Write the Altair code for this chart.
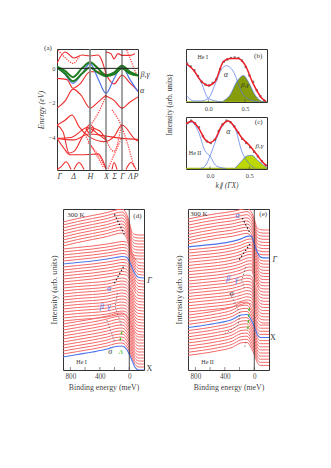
import altair as alt
import pandas as pd

FONT = "Liberation Serif"
RED = "#ee2b2b"
BLUE = "#4f74ea"
GREEN = "#1f7d1f"
INK = "#333333"

# ---------- panel (a): bands (k path position, energy eV)
A_TICKS = [0, 16, 33, 49, 57, 65, 73, 81]
A_NAMES = ["Γ", "Δ", "H", "X", "Σ", "Γ", "Λ", "P"]
A_SOLID = [
    ([0, 8, 17, 25, 33, 41, 49], [0.3, 0.95, 0.6, 0.77, 0.72, 0.77, -0.3]),
    ([0, 10, 16, 23, 33, 41, 49], [-0.58, -0.65, -1.15, -0.9, -0.2, -0.2, -0.35]),
    ([0, 8, 16, 24, 33, 41, 49], [-2.3, -1.9, -1.2, -1.55, -2.3, -1.95, -1.55]),
    ([49, 57, 65, 73, 81], [-1.6, -1.85, -2.3, -1.95, -1.65]),
    ([49, 54, 57, 61, 65, 73, 78], [0.95, 0.85, 0.55, 0.85, 0.75, 0.75, 0.85]),
    ([49, 57, 65, 73, 81], [-0.35, -0.9, -0.4, -0.85, -1.3]),
    ([0, 8, 15, 22, 32, 47, 57, 65, 79, 81], [-3.28, -3.0, -2.7, -3.37, -3.95, -4.24, -3.95, -3.28, -4.15, -4.2]),
    ([0, 6, 12, 17, 26, 32, 42, 49], [-3.28, -3.66, -4.9, -4.8, -3.9, -3.47, -3.85, -4.15]),
    ([0, 14, 31, 42, 49], [-4.05, -4.0, -3.41, -3.6, -4.1]),
    ([0, 17, 32, 47, 65, 81], [-4.05, -4.14, -3.8, -3.9, -4.05, -4.1]),
    ([0, 7, 13, 24, 33, 41, 49], [-4.05, -4.63, -5.0, -5.0, -4.98, -4.95, -5.8]),
    ([0, 4, 9, 14], [-5.85, -5.7, -5.4, -5.85]),
    ([17, 22, 27], [-5.85, -5.45, -5.85]),
    ([55, 57, 60], [-5.85, -5.45, -5.85]),
    ([69, 74, 79], [-5.85, -5.45, -5.85]),
    ([29, 33, 37], [-3.5, -3.25, -3.5]),
    ([29, 33, 37], [-3.5, -3.75, -3.5]),
]
A_DOTTED = [
    ([1, 9, 16, 23], [1.05, 0.58, 0.29, 0.77]),
    ([29, 47], [-3.95, -5.78]),
    ([32, 42, 49], [-3.4, -2.5, -1.6]),
    ([31, 41, 49], [-4.3, -5.0, -5.8]),
    ([49, 57, 64], [-4.15, -4.8, -3.4]),
    ([55, 64, 77], [-2.4, -3.28, -5.7]),
    ([51, 64], [-5.8, -4.1]),
    ([69.7, 79.7], [1.06, -0.39]),
]
A_BLUE = ([0, 8, 16, 25, 33, 41, 49, 57, 65, 73, 81],
          [0.1, -0.35, -0.87, -0.3, 0.29, -0.6, -1.44, -0.6, 0.1, -0.65, -1.35])
A_GREEN1 = ([0, 8, 16, 25, 33, 41, 49, 57, 65, 73, 81],
            [0.1, -0.15, -0.5, 0.0, 0.35, 0.0, -0.4, -0.25, 0.15, -0.2, -0.4])
A_GREEN2 = ([0, 8, 16, 25, 33, 41, 49, 57, 65, 73, 81],
            [0.05, -0.3, -0.75, -0.3, 0.05, -0.25, -0.45, -0.35, 0.0, -0.3, -0.42])

# ---------- panels (b), (c): momentum distribution (k, intensity)
B_TOTAL = ([-0.305, -0.2, -0.11, 0.0, 0.09, 0.205, 0.296, 0.41, 0.5, 0.61, 0.73, 0.787],
           [0.73, 0.6, 0.415, 0.31, 0.38, 0.76, 0.82, 0.82, 0.7, 0.35, 0.07, 0.01])
B_DOTS = ([-0.29, -0.24, -0.19, -0.14, -0.09, -0.04, 0.01, 0.06, 0.11, 0.16, 0.21, 0.26, 0.31, 0.36, 0.41, 0.46, 0.51, 0.56, 0.61, 0.66, 0.71, 0.76],
          [0.73, 0.67, 0.6, 0.49, 0.38, 0.33, 0.31, 0.36, 0.43, 0.62, 0.76, 0.8, 0.83, 0.84, 0.83, 0.78, 0.66, 0.5, 0.38, 0.22, 0.11, 0.03])
B_A1 = ([-0.305, -0.28, -0.2, -0.11, 0.0, 0.1, 0.2],
        [0.68, 0.69, 0.6, 0.41, 0.07, 0.02, 0.0])
B_A2 = ([-0.305, -0.2, -0.1, 0.0, 0.1, 0.18, 0.25, 0.33, 0.479, 0.61, 0.7],
        [0.13, 0.02, 0.02, 0.07, 0.36, 0.62, 0.685, 0.6, 0.13, 0.02, 0.0])
B_FILL = ([0.205, 0.296, 0.387, 0.479, 0.546, 0.637, 0.75, 0.8],
          [0.02, 0.13, 0.38, 0.5, 0.38, 0.13, 0.005, 0.0])

C_TOTAL = ([-0.305, -0.233, -0.148, -0.064, 0.0, 0.064, 0.148, 0.233, 0.318, 0.403, 0.488, 0.594, 0.657, 0.72],
           [0.87, 0.92, 0.795, 0.57, 0.506, 0.57, 0.827, 0.923, 0.795, 0.6, 0.474, 0.28, 0.154, 0.058])
C_DOTS = ([-0.29, -0.24, -0.19, -0.14, -0.09, -0.04, 0.01, 0.06, 0.11, 0.16, 0.21, 0.26, 0.31, 0.36, 0.41, 0.46, 0.51, 0.56, 0.61, 0.66, 0.71],
          [0.88, 0.93, 0.88, 0.8, 0.63, 0.53, 0.5, 0.56, 0.73, 0.86, 0.93, 0.9, 0.82, 0.7, 0.58, 0.5, 0.42, 0.33, 0.24, 0.15, 0.07])
C_A1 = ([-0.305, -0.233, -0.148, -0.064, 0.0, 0.08, 0.2],
        [0.85, 0.9, 0.72, 0.35, 0.25, 0.06, 0.01])
C_A2 = ([-0.12, -0.06, 0.0, 0.08, 0.148, 0.233, 0.318, 0.403, 0.488, 0.57],
        [0.01, 0.06, 0.25, 0.57, 0.8, 0.92, 0.79, 0.346, 0.12, 0.02])
C_FILL = ([0.318, 0.403, 0.467, 0.53, 0.615, 0.72],
          [0.013, 0.154, 0.25, 0.263, 0.154, 0.026])

# ---------- panels (d), (e): energy distribution curves
BE_GRID = [900, 700, 500, 300, 180, 100, 40, 0, -40, -80, -130, -200]
D_LEFT = [148, 145, 142, 139, 136, 133, 130, 127, 124, 121, 118, 115, 112, 109, 106, 103,
          100, 97, 94, 91, 88, 85, 82, 79, 76, 73, 70, 67, 64, 61, 58, 55, 52, 49, 46, 43,
          40, 37, 34, 31, 28, 25, 22, 19, 16, 13]
D_SHAPES = [
    [0, 3.5, 6.5, 9.5, 12, 13, 8.5, 0, -10.5, -12.5, -13, -13],
    [0, 1.5, 3, 5, 6.5, 7.5, 7, 3, -4, -10, -13.5, -14],
    [0, 1.5, 2.5, 4, 6, 7, 6, 2, -5, -11, -13.5, -14],
    [0, 2.5, 5, 8, 10.5, 11, 8, 3, -4, -10.5, -13, -13],
]
D_GROUP = [0]*9 + [1]*12 + [2]*13 + [3]*12
D_BLUE = [14, 45]
D_DASH = [
    ([201, 68], [155.7, 135.7], "#111111", 1.1),
    ([78, 215], [103.3, 85], "#111111", 1.1),
    ([160, 192, 100], [76.7, 63.3, 43.3], "#555555", 0.7),
    ([305, 192], [50, 27], "#555555", 0.7),
]
D_GREEN = ([100, 133], [38.3, 27])

E_LEFT = [151, 147.9, 144.8, 141.7, 138.6, 135.5, 132.4, 129.3, 126.2, 123.1, 120, 116.9,
          113.8, 110.7, 107.6, 104.5, 101.4, 98.3, 95.2, 92.1, 89, 85.9, 82.8, 79.7, 76.6,
          73.5, 70.4, 67.3, 64.2, 61.1, 58, 54.9, 51.8, 48.7, 45.6, 42.5, 39.4, 36.3, 33.2,
          30.1, 27, 23.9, 20.8, 17.7, 14.6]
E_SHAPES = [
    [0, 3, 5.5, 7.5, 9.5, 10.5, 7, 0, -9, -10.5, -11, -11],
    [0, 1.5, 3, 5.5, 8, 10.5, 11, 3, -5, -10, -11, -11],
    [0, 1.5, 3, 5, 7.5, 9, 8, 1.5, -6, -10, -11, -11],
    [0, 2, 4.5, 8, 12.5, 13, 7.5, 1, -7, -10, -10, -10],
]
E_GROUP = [0]*9 + [1]*12 + [2]*10 + [3]*14
E_BLUE = [9, 35]
E_DASH = [
    ([163, 58], [152, 137], "#111111", 1.1),
    ([58, 208], [126, 110], "#111111", 1.1),
    ([113, 171, 136], [103, 90, 82], "#555555", 0.7),
    ([331, 195, 218, 426], [77, 57, 45, 35], "#555555", 0.7),
    ([113, 136], [28, 21], "#555555", 0.7),
]
E_GREEN = ([68, 90], [62, 38])
BE_TICKS = [800, 600, 400, 200, 0]
BE_LABELS = [800, 400, 0]


def frame(xs, ys):
    d = pd.DataFrame({"x": xs, "y": ys})
    d["i"] = range(len(d))
    return d


class P:
    """A panel's scales and axes, shared by all of its layers."""
    def __init__(self, xdom, ydom, xaxis, yaxis):
        self.x = alt.X("x:Q", scale=alt.Scale(domain=xdom, nice=False), axis=xaxis)
        self.y = alt.Y("y:Q", scale=alt.Scale(domain=ydom, nice=False), axis=yaxis)

    def enc(self):
        return dict(x=self.x, y=self.y)


def line(p, series, color, width, dash=None, interp="monotone"):
    kw = dict(color=color, strokeWidth=width, interpolate=interp, clip=True)
    if dash:
        kw["strokeDash"] = dash
    return alt.Chart(frame(*series)).mark_line(**kw).encode(order="i:Q", **p.enc())


def label(p, x, y, t, color=INK, size=7, style="normal", angle=0, opacity=0.99):
    return alt.Chart(pd.DataFrame({"x": [x], "y": [y], "t": [t]})).mark_text(
        font=FONT, fontSize=size, color=color, fontStyle=style, angle=angle, opacity=opacity,
        align="center", baseline="middle").encode(text="t:N", **p.enc())


# ---------- panel (a)
a_expr = " : ".join(f"datum.value == {v} ? '{n}'" for v, n in zip(A_TICKS, A_NAMES)) + " : ''"
pa = P([0, 81], [-5.88, 1.12],
       alt.Axis(values=A_TICKS, labelExpr=a_expr, title=None, labelFontStyle="italic", labelFontSize=8, labelPadding=2),
       alt.Axis(values=[0, -2, -4], title="Energy (eV)", titleFontStyle="italic", format="d", labelFontSize=6.5,
                labelPadding=2, titleFontSize=8, titlePadding=3))
a_layers = []
for sr in A_SOLID:
    a_layers.append(line(pa, sr, RED, 1.1))
for sr in A_DOTTED:
    a_layers.append(line(pa, sr, "#ff4040", 1.3, dash=[1.2, 1.2]))
a_layers.append(line(pa, A_BLUE, BLUE, 1.2))
a_layers.append(line(pa, A_GREEN1, GREEN, 2))
a_layers.append(line(pa, A_GREEN2, GREEN, 2))
a_layers.append(line(pa, ([0, 81], [0, 0]), "#222222", 1, interp="linear"))
a_layers.append(line(pa, ([33, 33], [-5.88, 1.12]), "#8a8a8a", 1.8, interp="linear"))
for vx in [49, 65]:
    a_layers.append(line(pa, ([vx, vx], [-5.88, 1.12]), "#333333", 0.9, interp="linear"))
a_layers += [
    label(pa, -9, 1.17, "(a)"),
    label(pa, 88, -0.39, "β,γ", size=8, style="italic"),
    label(pa, 85, -1.3, "α", size=8, style="italic"),
    label(pa, 113, -2.12, "Intensity (arb. units)", size=7.5, angle=270),
]
panel_a = alt.layer(*a_layers).properties(width=81, height=121)


# ---------- panels (b), (c)
def mdc(dom, total, dots, a1, a2, fill, fill_color, texts, base_green, xtitle):
    xaxis = alt.Axis(values=[0, 0.5], format=".1f", labelFontSize=6.5, labelPadding=3,
                     title=xtitle, titleFontStyle="italic", titleFontSize=7.5, titlePadding=3)
    p = P(dom, [0, 1], xaxis, None)
    layers = [
        alt.Chart(frame(*fill)).mark_area(color=fill_color, interpolate="monotone", clip=True, opacity=1).encode(**p.enc()),
        line(p, ([dom[0], dom[1]], [base_green, base_green]), "#9fb51a", 1.6, interp="linear"),
        line(p, fill, BLUE, 0.7), line(p, a1, BLUE, 0.7), line(p, a2, BLUE, 0.7),
        alt.Chart(frame(*dots)).mark_square(size=5, color="#666666", opacity=0.9, clip=True).encode(**p.enc()),
        line(p, total, "#ee1c25", 1.5),
        alt.Chart(pd.DataFrame({"x": [0, 0.5], "y": [0, 0], "y2": [0.05, 0.05]})).mark_rule(
            color="#444444", strokeWidth=0.6).encode(y2="y2:Q", **p.enc()),
    ]
    for t in texts:
        layers.append(label(p, t[0], t[1], t[2], size=t[3], style=t[4]))
    return layers


panel_b = alt.layer(*mdc([-0.304, 0.8], B_TOTAL, B_DOTS, B_A1, B_A2, B_FILL, "#869c08",
                         [(-0.076, 0.84, "He I", 6, "normal"), (0.68, 0.87, "(b)", 7, "normal"),
                          (0.24, 0.51, "α", 8, "italic"), (0.5, 0.32, "β,γ", 7, "italic")],
                         0.0, None)).properties(width=81, height=53)
panel_c = alt.layer(*mdc([-0.305, 0.725], C_TOTAL, C_DOTS, C_A1, C_A2, C_FILL, "#bcd800",
                         [(-0.19, 0.31, "He II", 6, "normal"), (0.62, 0.91, "(c)", 7, "normal"),
                          (0.233, 0.72, "α", 8, "italic"), (0.63, 0.44, "β,γ", 7, "italic")],
                         0.01, "k∥ (ΓX)")).properties(width=81, height=52)


# ---------- panels (d), (e)
def edc(left, shapes, group, blue, dashes, green, texts, ylabel_pad):
    xaxis = alt.Axis(values=BE_LABELS, format="d", title="Binding energy (meV)", titleFontSize=7.8, labelFontSize=7.2,
                     labelPadding=2, titlePadding=4)
    yaxis = alt.Axis(values=[], title="Intensity (arb. units)", titleFontSize=8.5, titlePadding=ylabel_pad)
    p = P([900, -200], [0, 161], xaxis, yaxis)
    layers = []
    rows, blue_rows = [], []
    for c, (l, g) in enumerate(zip(left, group)):
        for n, (b, s) in enumerate(zip(BE_GRID, shapes[g])):
            (blue_rows if c in blue else rows).append({"x": b, "y": l + s, "c": c, "i": n})
    for data, color, w in [(rows, "#f46868", 1.0), (blue_rows, BLUE, 1.2)]:
        layers.append(alt.Chart(pd.DataFrame(data)).mark_line(
            color=color, strokeWidth=w, interpolate="monotone", clip=True).encode(
            detail="c:N", order="i:Q", **p.enc()))
    layers.append(line(p, ([0, 0], [0, 161]), "#222222", 0.8, interp="linear"))
    for d in dashes:
        layers.append(line(p, (d[0], d[1]), d[2], d[3], dash=[1.5, 2], interp="linear"))
    layers.append(line(p, green, "#44c020", 1.3, dash=[3, 3], interp="linear"))
    layers.append(alt.Chart(pd.DataFrame({"x": BE_TICKS, "y": [0]*5, "y2": [3]*5})).mark_rule(
        color="#444444", strokeWidth=0.6).encode(y2="y2:Q", **p.enc()))
    for t in texts:
        layers.append(label(p, t[0], t[1], t[2], color=t[3], size=t[4], style=t[5]))
    return layers


panel_d = alt.layer(*edc(D_LEFT, D_SHAPES, D_GROUP, D_BLUE, D_DASH, D_GREEN, [
    (274, 81, "α", BLUE, 8, "italic"), (374, 63, "β", BLUE, 8, "italic"), (274, 63, "γ", BLUE, 8, "italic"),
    (260, 18, "σ", INK, 8, "italic"), (114, 18, "Λ", "#44c020", 7, "italic"),
    (726, 155, "300 K", INK, 7, "normal"), (-110, 154, "(d)", INK, 7, "normal"),
    (648, 8, "He I", INK, 6, "normal"), (-274, 89, "Γ", INK, 8, "italic"), (-274, 1, "X", INK, 8, "normal"),
], 5)).properties(width=81, height=161)

panel_e = alt.layer(*edc(E_LEFT, E_SHAPES, E_GROUP, E_BLUE, E_DASH, E_GREEN, [
    (226, 154, "α", BLUE, 8, "italic"), (354, 91, "β", BLUE, 8, "italic"), (240, 90, "γ", BLUE, 8, "italic"),
    (307, 76, "σ", INK, 8, "italic"),
    (752, 156, "300 K", INK, 7, "normal"), (-122, 156, "(e)", INK, 7, "normal"),
    (634, 8, "He II", INK, 6, "normal"), (-280, 110, "Γ", INK, 8, "italic"), (-254, 32, "X", INK, 8, "normal"),
], 5)).properties(width=81, height=161)


def spacer(w):
    return alt.Chart(pd.DataFrame({"x": [0], "y": [0]})).mark_point(opacity=0).encode(
        x=alt.X("x:Q", axis=None), y=alt.Y("y:Q", axis=None)
    ).properties(width=w, height=10, view=alt.ViewConfig(stroke=None))


right_col = alt.vconcat(panel_b, panel_c, spacing=4)
top = alt.hconcat(spacer(1), alt.hconcat(panel_a, right_col, spacing=11), spacing=0)
bottom = alt.hconcat(spacer(16), alt.hconcat(panel_d, panel_e, spacing=20), spacing=0)
chart = alt.vconcat(top, bottom, spacing=18).properties(
    padding={"left": 21, "top": 35, "right": 4, "bottom": 4}
).configure_view(stroke="#333333", strokeWidth=1).configure_axis(
    grid=False, domain=False, ticks=False, labelFont=FONT, titleFont=FONT, labelColor=INK, titleColor=INK,
    titleFontWeight="normal", labelOpacity=0.99, titleOpacity=0.99
)
chart.save("out.html", embed_options={"renderer": "svg", "actions": False})
